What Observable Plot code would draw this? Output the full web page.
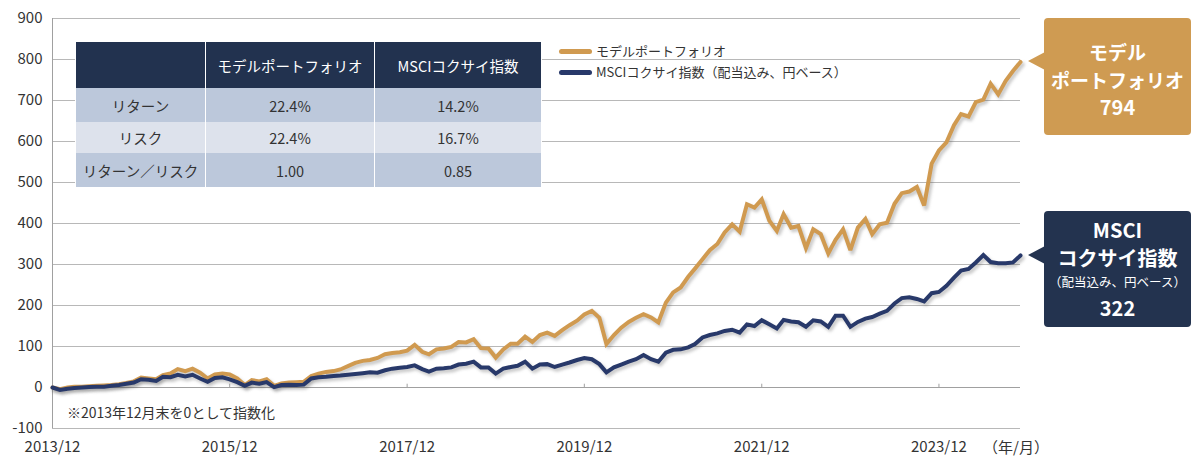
<!DOCTYPE html>
<html><head><meta charset="utf-8">
<script src="https://cdn.jsdelivr.net/npm/d3@7"></script>
<script src="https://cdn.jsdelivr.net/npm/@observablehq/plot@0.6"></script>
<style>
body{margin:0;background:#fff;font-family:"Noto Sans CJK JP","Noto Sans",sans-serif;}
#wrap{position:relative;width:1192px;height:456px;overflow:hidden;background:#fff;}
#wrap svg{position:absolute;left:0;top:0;}
table.stats{position:absolute;left:75px;top:42px;width:466px;border-collapse:collapse;font-size:14.5px;color:#333;table-layout:fixed;}
table.stats td,table.stats th{padding:0;text-align:center;border-left:1px solid #fff;border-right:1px solid #fff;font-weight:normal;}
table.stats th{background:#22324f;color:#fff;height:46px;}
table.stats tr.r0 td{background:#bcc8db;height:34px;}
table.stats tr.r1 td{background:#dde2ec;height:31px;}
table.stats tr.r2 td{background:#bcc8db;height:34px;}
.leg{position:absolute;font-size:13px;color:#333;white-space:nowrap;line-height:16px;}
.sw{position:absolute;width:33px;height:5px;border-radius:2.5px;}
.note{position:absolute;font-size:14px;color:#333;white-space:nowrap;}
.box{position:absolute;color:#fff;text-align:center;border-radius:4px;font-weight:bold;}
.tri{position:absolute;width:0;height:0;border-top:9px solid transparent;border-bottom:9px solid transparent;}
</style></head><body><div id="wrap"></div>
<script>
// ---- data ----
const startYear = 2013, startMonth = 12; // 2013/12 = 0
const model = [
  0,-4,0,2,2,3,4,5,6,8,11,15,
  24,22,20,30,34,45,40,46,36,22,32,34,
  32,22,6,18,15,20,4,10,12,13,14,28,
  34,38,40,44,52,60,65,67,72,81,84,86,
  90,104,87,81,93,95,99,111,110,118,96,95,
  73,93,107,107,124,111,128,134,126,140,152,163,
  178,187,170,106,128,146,160,170,179,171,159,207,
  232,244,270,290,313,335,350,378,398,380,447,439,
  459,407,382,423,390,394,340,386,374,327,360,386,
  335,390,411,374,398,402,448,474,478,489,444,546,
  578,598,640,667,661,696,702,741,715,748,772,794
];
const msci = [
  0,-6,-3,-1,0,1,2,2,4,6,9,12,
  20,19,16,26,25,31,27,31,22,14,23,25,
  20,13,4,12,9,13,1,6,7,6,7,22,
  25,26,28,29,31,33,35,37,36,42,46,48,
  50,54,45,39,46,47,49,56,58,63,49,49,
  34,46,50,53,63,46,56,57,50,56,61,67,
  72,69,57,37,49,56,63,69,79,69,63,85,
  92,93,98,106,122,128,132,138,141,134,154,150,
  164,154,144,165,161,159,148,164,161,148,175,175,
  148,160,168,172,180,187,205,218,220,216,210,230,
  233,248,268,285,289,305,323,306,303,303,305,322
];
const yTicks = [-100,0,100,200,300,400,500,600,700,800,900];
const xTickLabels = ["2013/12","2015/12","2017/12","2019/12","2021/12","2023/12"];
const seriesNames = ["モデルポートフォリオ","MSCIコクサイ指数（配当込み、円ベース）"];
const tableHeader = ["","モデルポートフォリオ","MSCIコクサイ指数"];
const tableRows = ["リターン","リスク","リターン／リスク"];
const modelStats = ["22.4%","22.4%","1.00"];
const msciStats = ["14.2%","16.7%","0.85"];
const noteText = "※2013年12月末を0として指数化";
const unitText = "（年/月）";

const GOLD = "#d09a50", NAVY = "#28396a";
const GOLD_BOX = "#cf9b52", NAVY_BOX = "#23334f";

const dates = model.map((_, i) => new Date(Date.UTC(startYear, startMonth - 1 + i, 1)));
const modelData = dates.map((d, i) => ({date: d, value: model[i]}));
const msciData = dates.map((d, i) => ({date: d, value: msci[i]}));
const xTicks = xTickLabels.map(s => { const [y, m] = s.split("/"); return new Date(Date.UTC(+y, +m - 1, 1)); });

const font = '"Noto Sans CJK JP","Noto Sans",sans-serif';
const shadow = {stroke: "#444", strokeOpacity: 0.28, strokeWidth: 4.5, dx: 2, dy: 2.5, imageFilter: "blur(1.4px)", curve: "linear"};

const chart = Plot.plot({
  width: 1192, height: 456,
  marginLeft: 52, marginRight: 172, marginTop: 18, marginBottom: 28,
  style: {fontFamily: font, fontSize: "15px", color: "#333", background: "transparent"},
  x: {type: "utc", domain: [dates[0], dates[dates.length - 1]], label: null},
  y: {domain: [-100, 900], label: null},
  marks: [
    Plot.gridY(yTicks, {stroke: "#b8b8b8", strokeOpacity: 1}),
    Plot.ruleX([dates[0]], {stroke: "#a0a0a0"}),
    Plot.ruleY([0], {stroke: "#a0a0a0"}),
    Plot.ruleX(xTicks.slice(1), {y1: 0, y2: 8, stroke: "#a0a0a0"}),
    Plot.axisY(yTicks, {tickSize: 0, tickPadding: 10, tickFormat: d => String(d), label: null, fill: "#333"}),
    Plot.axisX(xTicks, {tickSize: 0, tickPadding: 13, tickFormat: d3.utcFormat("%Y/%m"), label: null, fill: "#333"}),
    Plot.line(modelData, {x: "date", y: "value", ...shadow}),
    Plot.line(msciData, {x: "date", y: "value", ...shadow}),
    Plot.line(modelData, {x: "date", y: "value", stroke: GOLD, strokeWidth: 4, strokeLinejoin: "miter", strokeMiterlimit: 3}),
    Plot.line(msciData, {x: "date", y: "value", stroke: NAVY, strokeWidth: 4, strokeLinejoin: "miter", strokeMiterlimit: 3})
  ]
});

const wrap = document.getElementById("wrap");
wrap.appendChild(chart);

// ---- table ----
const tbl = document.createElement("table");
tbl.className = "stats";
let html = "<colgroup><col style='width:130px'><col style='width:169px'><col style='width:167px'></colgroup><tr>";
tableHeader.forEach(h => html += `<th>${h}</th>`);
html += "</tr>";
tableRows.forEach((r, i) => {
  html += `<tr class="r${i}"><td>${r}</td><td>${modelStats[i]}</td><td>${msciStats[i]}</td></tr>`;
});
tbl.innerHTML = html;
wrap.appendChild(tbl);

// ---- legend ----
[[GOLD, seriesNames[0], 51], [NAVY, seriesNames[1], 72]].forEach(([c, t, y]) => {
  const sw = document.createElement("div");
  sw.className = "sw"; sw.style.background = c; sw.style.left = "559px"; sw.style.top = (y - 2.5) + "px";
  wrap.appendChild(sw);
  const tx = document.createElement("div");
  tx.className = "leg"; tx.textContent = t; tx.style.left = "596px"; tx.style.top = (y - 8.5) + "px";
  wrap.appendChild(tx);
});

// ---- note & unit ----
const xs = chart.scale("x"), ys = chart.scale("y");
const note = document.createElement("div");
note.className = "note"; note.textContent = noteText;
note.style.left = "67px"; note.style.top = (ys.apply(-60) - 10) + "px";
wrap.appendChild(note);
const unit = document.createElement("div");
unit.className = "note"; unit.style.fontSize = "15px"; unit.textContent = unitText;
unit.style.left = (xs.apply(dates[dates.length - 1]) - 37) + "px"; unit.style.top = "436px";
wrap.appendChild(unit);

// ---- callouts ----
function callout(lastVal, color, lines, topOff, height) {
  const tipX = xs.apply(dates[dates.length - 1]) + 8;
  const tipY = ys.apply(lastVal);
  const tri = document.createElement("div");
  tri.className = "tri";
  tri.style.borderRight = `17px solid ${color}`;
  tri.style.left = tipX + "px"; tri.style.top = (tipY - 9) + "px";
  wrap.appendChild(tri);
  const box = document.createElement("div");
  box.className = "box";
  box.style.background = color;
  const left = tipX + 16;
  box.style.left = left + "px"; box.style.width = (1191 - left) + "px";
  box.style.top = (tipY - topOff) + "px"; box.style.height = height + "px";
  lines.forEach(([t, size, cy]) => {
    const d = document.createElement("div");
    d.textContent = t;
    d.style.cssText = `position:absolute;left:0;right:0;top:${cy - size * 0.7}px;font-size:${size}px;line-height:${size * 1.4}px;white-space:nowrap;font-weight:${size < 15 ? "normal" : "bold"}`;
    box.appendChild(d);
  });
  wrap.appendChild(box);
}
callout(model[model.length - 1], GOLD_BOX,
  [["モデル", 19, 34], ["ポートフォリオ", 19, 62], [String(model[model.length - 1]), 20, 89]], 43, 117);
callout(msci[msci.length - 1], NAVY_BOX,
  [["MSCI", 20, 19], ["コクサイ指数", 20, 47], ["（配当込み、円ベース）", 12.5, 71], [String(msci[msci.length - 1]), 20, 97]], 44, 116);
</script></body></html>
